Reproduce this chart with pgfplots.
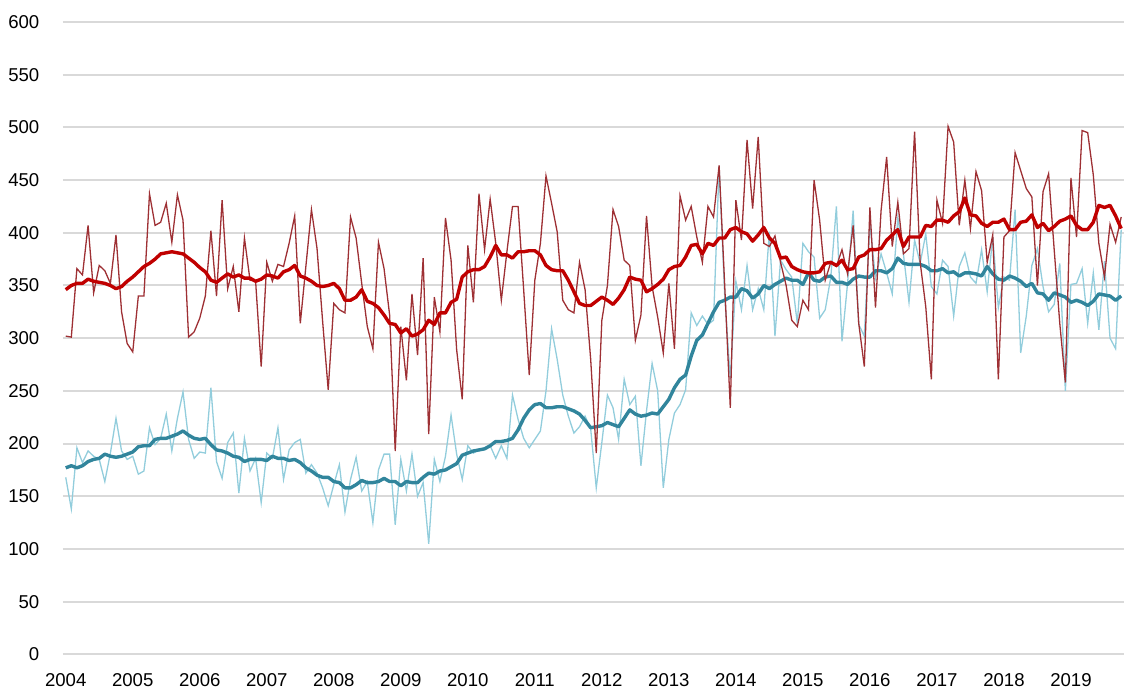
\documentclass[border=0pt]{standalone}
\usepackage{fontspec}
\setmainfont{Liberation Sans}
\usepackage{pgfplots}
\usepackage{pgfplotstable}
\pgfplotsset{compat=1.18}
\definecolor{thinred}{RGB}{158,48,52}
\definecolor{thickred}{RGB}{192,0,0}
\definecolor{thinblue}{RGB}{146,205,220}
\definecolor{thickblue}{RGB}{49,133,156}
\definecolor{gridgray}{RGB}{217,217,217}
\pgfplotstableread{
m a b c d
0 302 346 168 177
1 301 350 138 179
2 366 352 196 177
3 360 352 182 179
4 407 356 193 183
5 343 354 188 185
6 369 353 185 186
7 364 352 164 190
8 352 350 191 188
9 398 347 224 187
10 325 349 193 188
11 295 354 185 190
12 287 358 188 192
13 340 363 171 197
14 340 368 174 198
15 437 371 215 198
16 407 375 199 204
17 410 380 205 205
18 428 381 228 205
19 391 382 193 207
20 436 381 224 209
21 412 380 249 212
22 301 376 204 208
23 306 372 186 205
24 319 367 192 204
25 340 363 191 205
26 402 355 253 199
27 340 353 183 194
28 431 357 167 193
29 347 361 201 191
30 368 358 210 188
31 325 360 153 187
32 395 357 205 183
33 355 357 174 185
34 354 354 186 185
35 273 356 144 185
36 372 360 191 184
37 354 359 186 188
38 370 357 215 186
39 368 363 166 186
40 390 365 194 184
41 416 369 201 185
42 314 359 204 182
43 368 357 172 177
44 422 354 180 174
45 385 350 172 170
46 316 349 158 168
47 251 350 141 168
48 333 352 161 164
49 327 347 180 163
50 324 336 135 158
51 415 336 166 158
52 395 339 187 161
53 352 346 155 165
54 311 335 164 163
55 290 333 125 163
56 391 329 175 164
57 366 322 190 167
58 322 314 190 164
59 193 313 123 164
60 311 305 185 160
61 260 309 155 164
62 342 302 190 163
63 284 304 150 163
64 376 308 163 168
65 209 317 105 172
66 339 313 185 171
67 306 324 164 174
68 414 324 188 175
69 374 334 227 178
70 289 337 190 181
71 242 358 166 189
72 388 363 198 191
73 334 365 191 193
74 437 365 194 194
75 384 368 196 195
76 432 377 198 198
77 390 388 186 202
78 336 379 198 202
79 382 379 186 203
80 425 376 246 205
81 425 382 223 213
82 346 382 205 224
83 265 383 196 232
84 355 383 204 237
85 390 379 212 238
86 454 369 250 234
87 428 365 309 234
88 401 364 280 235
89 336 364 246 235
90 327 355 226 233
91 324 344 210 231
92 372 333 216 228
93 346 331 226 222
94 280 331 214 215
95 191 335 158 216
96 317 339 201 217
97 350 336 246 220
98 422 332 234 218
99 406 338 204 216
100 374 346 261 224
101 369 358 237 232
102 298 356 245 228
103 322 355 179 226
104 416 344 231 227
105 349 347 276 229
106 320 351 250 228
107 286 356 158 235
108 352 365 204 242
109 290 368 229 253
110 435 369 237 261
111 412 377 251 265
112 425 388 324 283
113 396 389 312 298
114 372 380 321 303
115 425 390 313 314
116 415 388 317 325
117 464 395 463 334
118 350 395 340 336
119 234 403 261 339
120 431 405 354 339
121 393 401 327 347
122 488 399 369 345
123 423 392 327 338
124 491 398 347 342
125 390 405 327 350
126 387 395 401 347
127 397 390 302 351
128 372 376 374 354
129 350 377 365 357
130 317 368 358 355
131 311 365 314 355
132 336 363 390 351
133 327 362 382 362
134 450 362 377 355
135 412 363 319 354
136 355 371 327 358
137 372 372 358 359
138 368 369 425 353
139 384 374 297 353
140 361 365 352 351
141 407 366 421 356
142 314 377 313 359
143 273 379 302 358
144 424 384 409 358
145 329 384 357 364
146 421 385 380 364
147 472 393 362 362
148 387 398 342 366
149 429 403 414 376
150 380 387 380 371
151 385 396 334 370
152 496 396 393 370
153 372 396 371 370
154 330 407 399 368
155 261 406 349 364
156 431 412 342 364
157 409 412 374 366
158 501 410 368 362
159 486 416 321 363
160 407 420 368 359
161 450 433 381 362
162 404 417 358 362
163 458 416 352 361
164 440 409 384 359
165 372 406 344 368
166 398 410 396 361
167 261 410 329 356
168 396 413 358 355
169 402 403 355 359
170 476 403 422 357
171 459 410 286 354
172 442 411 321 349
173 434 417 369 352
174 350 405 385 343
175 439 409 349 342
176 456 402 325 336
177 384 406 332 343
178 314 411 371 341
179 258 413 250 339
180 452 416 351 334
181 396 407 352 336
182 497 403 366 334
183 495 403 314 331
184 455 410 362 335
185 390 426 308 342
186 358 424 373 341
187 408 426 300 340
188 391 416 290 336
189 415 404 403 340
}\data
\begin{document}
\begin{tikzpicture}
\begin{axis}[
  scale only axis, width=531pt, height=316.5pt,
  xmin=-0.5, xmax=189.5, ymin=0, ymax=600,
  xtick={0,12,24,36,48,60,72,84,96,108,120,132,144,156,168,180},
  xticklabels={2004,2005,2006,2007,2008,2009,2010,2011,2012,2013,2014,2015,2016,2017,2018,2019},
  ytick={0,50,...,600},
  ymajorgrids, grid style={line width=1pt, color=gridgray},
  axis line style={draw=none}, major tick length=0pt,
  ticklabel style={font=\fontsize{9.3}{11}\selectfont},
  /pgf/number format/assume math mode=true,
  xticklabel shift=6pt, yticklabel shift=8.3pt,
]
\addplot[thinblue, line width=0.65pt, no marks] table[x=m, y=c] {\data};
\addplot[thickblue, line width=1.7pt, no marks, line join=round] table[x=m, y=d] {\data};
\addplot[thinred, line width=0.65pt, no marks] table[x=m, y=a] {\data};
\addplot[thickred, line width=1.7pt, no marks, line join=round] table[x=m, y=b] {\data};
\end{axis}
\pgfresetboundingbox
\path[use as bounding box] ([xshift=-31.5pt,yshift=-19pt]current axis.south west) rectangle ([yshift=11pt]current axis.north east);
\end{tikzpicture}
\end{document}
